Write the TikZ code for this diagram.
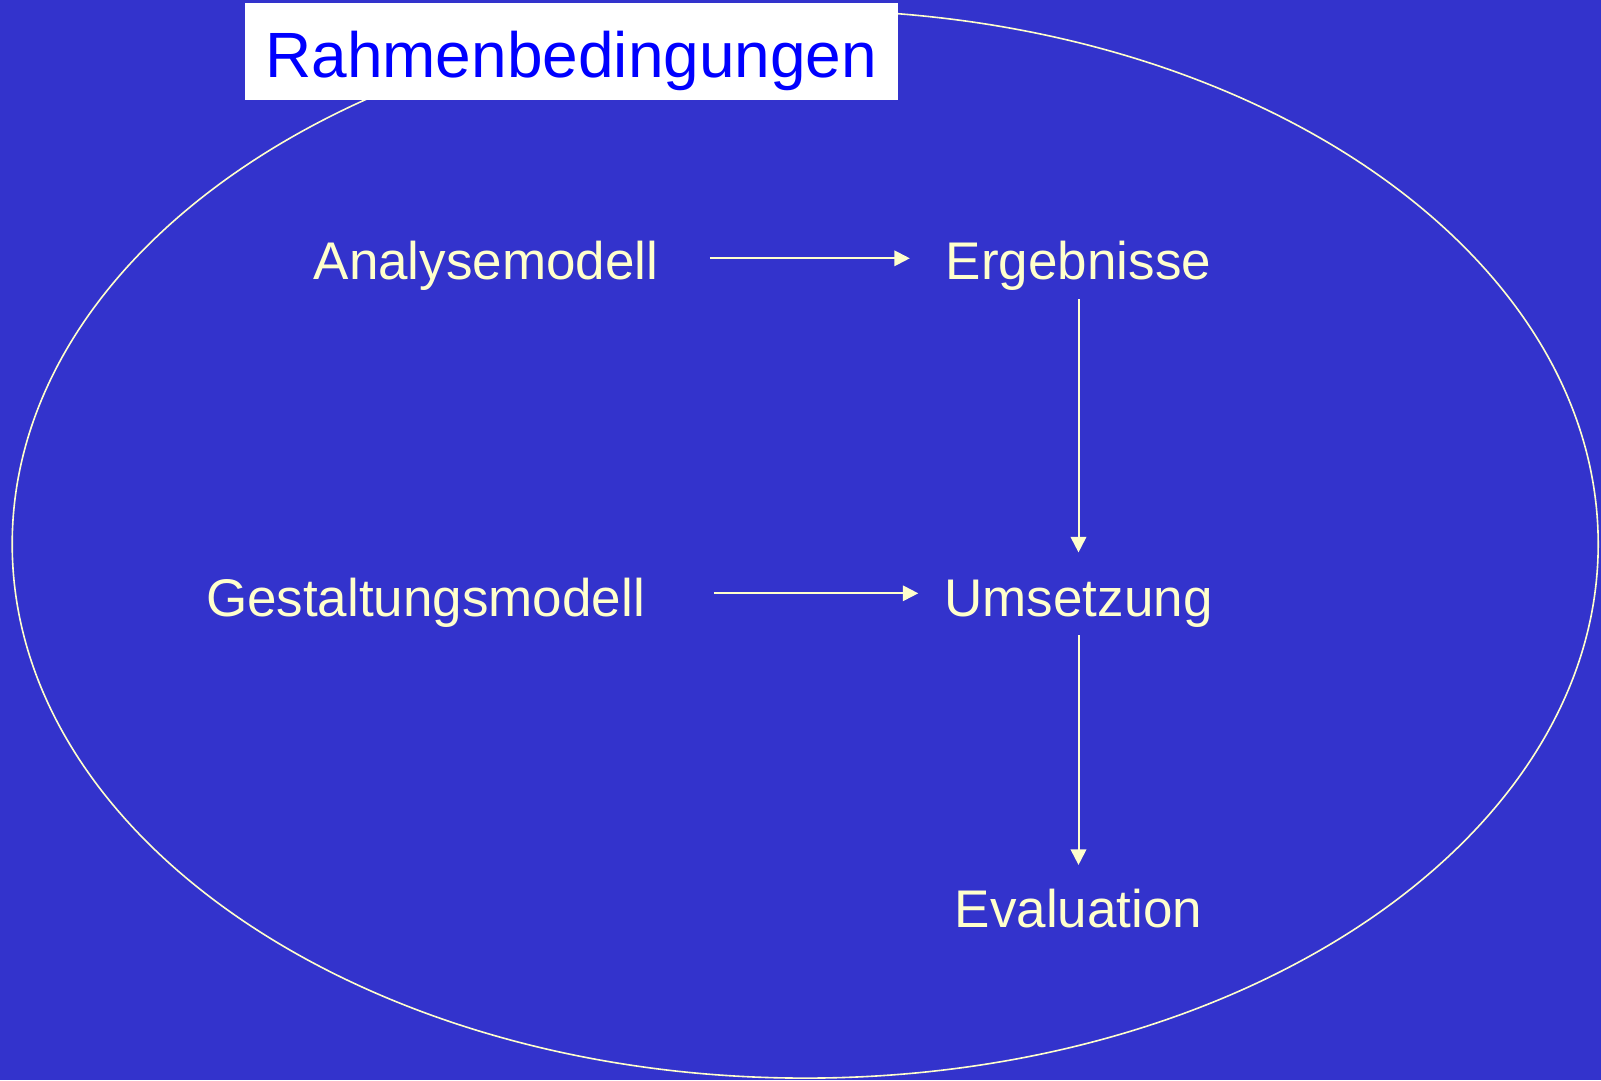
\documentclass[tikz,border=0pt]{standalone}
\usepackage{fontspec}
\setmainfont{Liberation Sans}
\usetikzlibrary{arrows.meta}
\definecolor{slidebg}{RGB}{51,51,204}
\definecolor{labeltext}{RGB}{255,255,204}
\definecolor{titleblue}{RGB}{0,0,255}
\tikzset{
  label/.style={anchor=base, inner sep=0pt, text=labeltext,
    font=\fontsize{53}{60}\selectfont},
  flow/.style={draw=labeltext, line width=2pt,
    -{Triangle[length=15.5pt,width=15.5pt]}},
  frame/.style={draw=labeltext, line width=1.6pt},
  titlebox/.style={fill=white, text=titleblue, inner sep=0pt,
    minimum width=652.5pt, minimum height=97pt,
    text height=52.2pt, text depth=0pt,
    font=\fontsize{64}{70}\selectfont}
}
\begin{document}
\begin{tikzpicture}[x=1pt,y=-1pt]
  % background
  \fill[slidebg] (0,0) rectangle (1601,1080);
  \useasboundingbox (0,0) rectangle (1601,1080);

  % enclosing ellipse
  \draw[frame] (805.2,544.1) ellipse [x radius=793, y radius=534];

  % title box
  \node[titlebox] (rahmen) at (571.25,51.5) {Rahmenbedingungen};

  % process labels
  \node[label] (ana) at (486,279) {Analysemodell};
  \node[label] (erg) at (1078.5,279) {Ergebnisse};
  \node[label] (ges) at (425.5,616) {Gestaltungsmodell};
  \node[label] (ums) at (1078.5,616) {Umsetzung};
  \node[label] (eva) at (1078.5,927) {Evaluation};

  % connectors
  \draw[flow, shorten <=51.4pt, shorten >=35.9pt]
    ([yshift=20.7pt]ana.base east) -- ([yshift=20.7pt]erg.base west);
  \draw[flow, shorten <=68.7pt, shorten >=26pt]
    ([yshift=22.7pt]ges.base east) -- ([yshift=22.7pt]ums.base west);
  \draw[flow, shorten <=20.2pt, shorten >=63.6pt] (erg.base) -- (ums.base);
  \draw[flow, shorten <=19.1pt, shorten >=62.1pt] (ums.base) -- (eva.base);
\end{tikzpicture}
\end{document}
